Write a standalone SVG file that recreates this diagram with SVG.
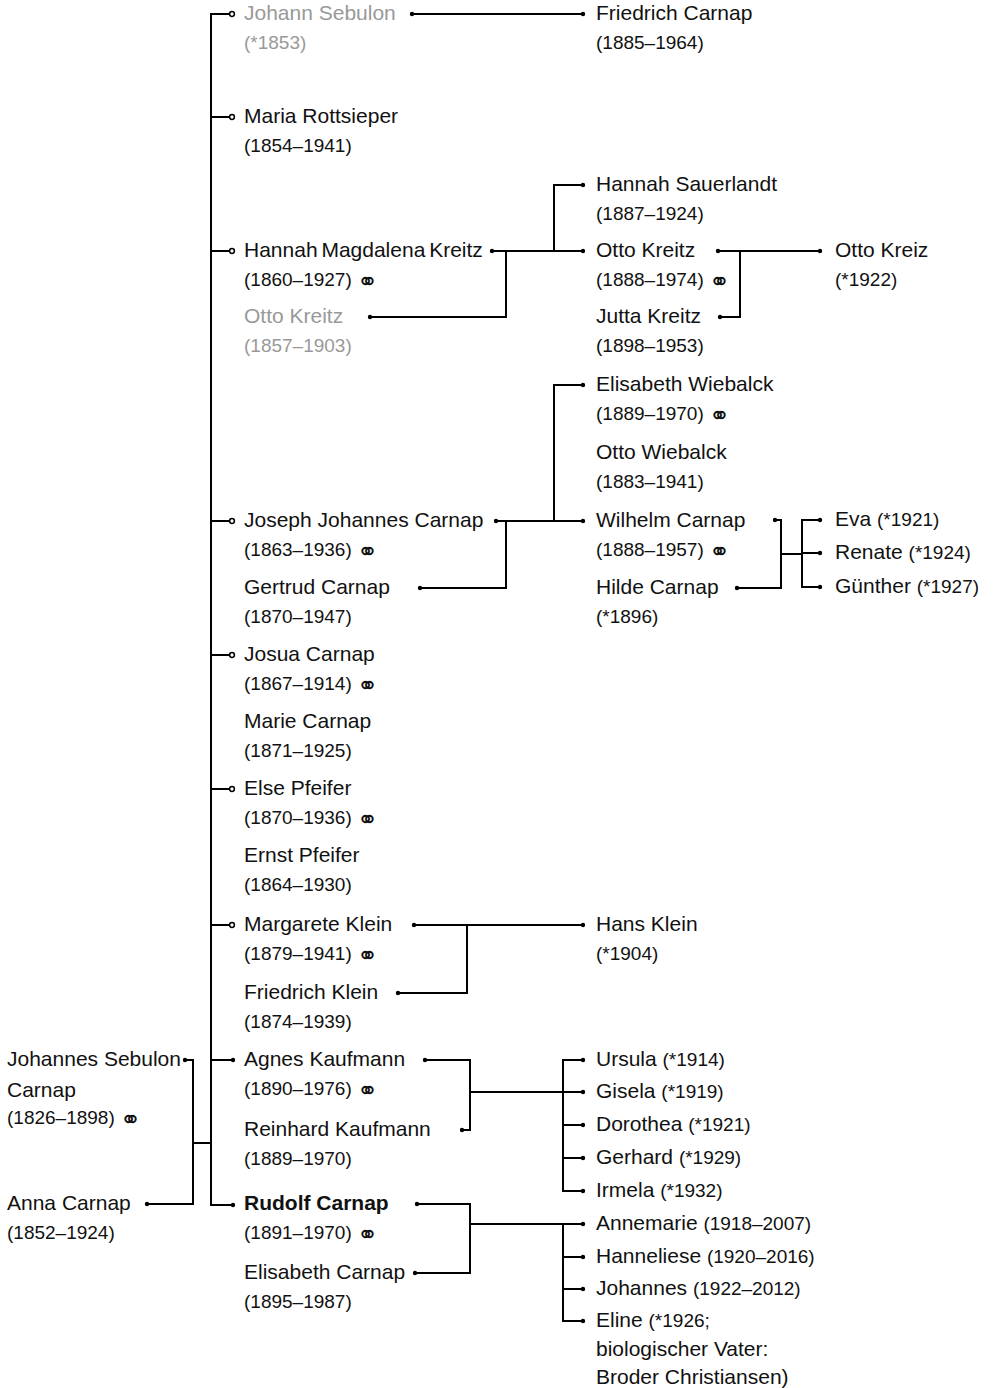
<svg xmlns="http://www.w3.org/2000/svg" width="993" height="1388" viewBox="0 0 993 1388">
<style>
text{font-family:"Liberation Sans",Arial,sans-serif;font-size:21px;fill:#111}
.d{font-size:19px}
.g{fill:#999}
.b{font-weight:bold}
.m{font-family:"DejaVu Sans",sans-serif;font-size:25px}
.ln{fill:none;stroke:#000;stroke-width:2}
</style>
<defs>
<marker id="dot" markerUnits="userSpaceOnUse" markerWidth="6" markerHeight="6" refX="3" refY="3" viewBox="0 0 6 6"><circle cx="3" cy="3" r="2.2" fill="#000"/></marker>
<marker id="ring" markerUnits="userSpaceOnUse" markerWidth="8" markerHeight="8" refX="4" refY="4" viewBox="0 0 8 8"><circle cx="4" cy="4" r="2.4" fill="#fff" stroke="#000" stroke-width="1.5"/></marker>
</defs>
<rect width="993" height="1388" fill="#fff"/>
<g id="connectors">
<path class="ln" d="M232,14 H211 V1205 H233" marker-start="url(#ring)" marker-end="url(#dot)"/>
<path class="ln" d="M211,117 H232" marker-end="url(#ring)"/>
<path class="ln" d="M211,251 H232" marker-end="url(#ring)"/>
<path class="ln" d="M211,521 H232" marker-end="url(#ring)"/>
<path class="ln" d="M211,655 H232" marker-end="url(#ring)"/>
<path class="ln" d="M211,789 H232" marker-end="url(#ring)"/>
<path class="ln" d="M211,925 H232" marker-end="url(#ring)"/>
<path class="ln" d="M211,1060 H233" marker-end="url(#dot)"/>
<path class="ln" d="M412,14 H583" marker-start="url(#dot)" marker-end="url(#dot)"/>
<path class="ln" d="M492,251 H583" marker-start="url(#dot)" marker-end="url(#dot)"/>
<path class="ln" d="M370,317 H506 V251" marker-start="url(#dot)"/>
<path class="ln" d="M554,251 V185 H583" marker-end="url(#dot)"/>
<path class="ln" d="M718,251 H820" marker-start="url(#dot)" marker-end="url(#dot)"/>
<path class="ln" d="M720,317 H740 V251" marker-start="url(#dot)"/>
<path class="ln" d="M496,521 H583" marker-start="url(#dot)" marker-end="url(#dot)"/>
<path class="ln" d="M420,588 H506 V521" marker-start="url(#dot)"/>
<path class="ln" d="M554,521 V385 H583" marker-end="url(#dot)"/>
<path class="ln" d="M775,520 H781 V588 H737" marker-start="url(#dot)" marker-end="url(#dot)"/>
<path class="ln" d="M781,554 H802"/>
<path class="ln" d="M820,520 H802 V587 H820" marker-start="url(#dot)" marker-end="url(#dot)"/>
<path class="ln" d="M802,553 H820" marker-end="url(#dot)"/>
<path class="ln" d="M414,925 H583" marker-start="url(#dot)" marker-end="url(#dot)"/>
<path class="ln" d="M398,993 H467 V925" marker-start="url(#dot)"/>
<path class="ln" d="M425,1060 H470 V1130 H462" marker-start="url(#dot)" marker-end="url(#dot)"/>
<path class="ln" d="M470,1092 H583" marker-end="url(#dot)"/>
<path class="ln" d="M583,1060 H563 V1191 H583" marker-start="url(#dot)" marker-end="url(#dot)"/>
<path class="ln" d="M563,1125 H583" marker-end="url(#dot)"/>
<path class="ln" d="M563,1158 H583" marker-end="url(#dot)"/>
<path class="ln" d="M417,1204 H470 V1273 H415" marker-start="url(#dot)" marker-end="url(#dot)"/>
<path class="ln" d="M470,1224 H583" marker-end="url(#dot)"/>
<path class="ln" d="M563,1224 V1321 H583" marker-end="url(#dot)"/>
<path class="ln" d="M563,1257 H583" marker-end="url(#dot)"/>
<path class="ln" d="M563,1289 H583" marker-end="url(#dot)"/>
<path class="ln" d="M185,1060 H193 V1204 H147" marker-start="url(#dot)" marker-end="url(#dot)"/>
<path class="ln" d="M193,1143 H211"/>
</g>
<g id="johann-sebulon"><text class="g" x="244" y="20">Johann Sebulon</text><text class="g d" x="244" y="49">(*1853)</text></g>
<g id="friedrich-carnap"><text x="596" y="20">Friedrich Carnap</text><text class="d" x="596" y="49">(1885–1964)</text></g>
<g id="maria-rottsieper"><text x="244" y="123">Maria Rottsieper</text><text class="d" x="244" y="152">(1854–1941)</text></g>
<g id="hannah-sauerlandt"><text x="596" y="191">Hannah Sauerlandt</text><text class="d" x="596" y="220">(1887–1924)</text></g>
<g id="hannah-magdalena-kreitz"><text x="244" y="257" word-spacing="-2">Hannah Magdalena Kreitz</text><text class="d" x="244" y="286">(1860–1927) <tspan class="m" dy="4">⚭</tspan></text></g>
<g id="otto-kreitz-sen"><text class="g" x="244" y="323">Otto Kreitz</text><text class="g d" x="244" y="352">(1857–1903)</text></g>
<g id="otto-kreitz"><text x="596" y="257">Otto Kreitz</text><text class="d" x="596" y="286">(1888–1974) <tspan class="m" dy="4">⚭</tspan></text></g>
<g id="jutta-kreitz"><text x="596" y="323">Jutta Kreitz</text><text class="d" x="596" y="352">(1898–1953)</text></g>
<g id="otto-kreiz"><text x="835" y="257">Otto Kreiz</text><text class="d" x="835" y="286">(*1922)</text></g>
<g id="elisabeth-wiebalck"><text x="596" y="391">Elisabeth Wiebalck</text><text class="d" x="596" y="420">(1889–1970) <tspan class="m" dy="4">⚭</tspan></text></g>
<g id="otto-wiebalck"><text x="596" y="459">Otto Wiebalck</text><text class="d" x="596" y="488">(1883–1941)</text></g>
<g id="joseph-johannes-carnap"><text x="244" y="527">Joseph Johannes Carnap</text><text class="d" x="244" y="556">(1863–1936) <tspan class="m" dy="4">⚭</tspan></text></g>
<g id="gertrud-carnap"><text x="244" y="594">Gertrud Carnap</text><text class="d" x="244" y="623">(1870–1947)</text></g>
<g id="wilhelm-carnap"><text x="596" y="527">Wilhelm Carnap</text><text class="d" x="596" y="556">(1888–1957) <tspan class="m" dy="4">⚭</tspan></text></g>
<g id="hilde-carnap"><text x="596" y="594">Hilde Carnap</text><text class="d" x="596" y="623">(*1896)</text></g>
<g id="eva"><text x="835" y="526">Eva <tspan class="d">(*1921)</tspan></text></g>
<g id="renate"><text x="835" y="559">Renate <tspan class="d">(*1924)</tspan></text></g>
<g id="guenther"><text x="835" y="593">Günther <tspan class="d">(*1927)</tspan></text></g>
<g id="josua-carnap"><text x="244" y="661">Josua Carnap</text><text class="d" x="244" y="690">(1867–1914) <tspan class="m" dy="4">⚭</tspan></text></g>
<g id="marie-carnap"><text x="244" y="728">Marie Carnap</text><text class="d" x="244" y="757">(1871–1925)</text></g>
<g id="else-pfeifer"><text x="244" y="795">Else Pfeifer</text><text class="d" x="244" y="824">(1870–1936) <tspan class="m" dy="4">⚭</tspan></text></g>
<g id="ernst-pfeifer"><text x="244" y="862">Ernst Pfeifer</text><text class="d" x="244" y="891">(1864–1930)</text></g>
<g id="margarete-klein"><text x="244" y="931">Margarete Klein</text><text class="d" x="244" y="960">(1879–1941) <tspan class="m" dy="4">⚭</tspan></text></g>
<g id="friedrich-klein"><text x="244" y="999">Friedrich Klein</text><text class="d" x="244" y="1028">(1874–1939)</text></g>
<g id="hans-klein"><text x="596" y="931">Hans Klein</text><text class="d" x="596" y="960">(*1904)</text></g>
<g id="agnes-kaufmann"><text x="244" y="1066">Agnes Kaufmann</text><text class="d" x="244" y="1095">(1890–1976) <tspan class="m" dy="4">⚭</tspan></text></g>
<g id="reinhard-kaufmann"><text x="244" y="1136">Reinhard Kaufmann</text><text class="d" x="244" y="1165">(1889–1970)</text></g>
<g id="rudolf-carnap"><text class="b" x="244" y="1210">Rudolf Carnap</text><text class="d" x="244" y="1239">(1891–1970) <tspan class="m" dy="4">⚭</tspan></text></g>
<g id="elisabeth-carnap"><text x="244" y="1279">Elisabeth Carnap</text><text class="d" x="244" y="1308">(1895–1987)</text></g>
<g id="ursula"><text x="596" y="1066">Ursula <tspan class="d">(*1914)</tspan></text></g>
<g id="gisela"><text x="596" y="1098">Gisela <tspan class="d">(*1919)</tspan></text></g>
<g id="dorothea"><text x="596" y="1131">Dorothea <tspan class="d">(*1921)</tspan></text></g>
<g id="gerhard"><text x="596" y="1164">Gerhard <tspan class="d">(*1929)</tspan></text></g>
<g id="irmela"><text x="596" y="1197">Irmela <tspan class="d">(*1932)</tspan></text></g>
<g id="annemarie"><text x="596" y="1230">Annemarie <tspan class="d">(1918–2007)</tspan></text></g>
<g id="hanneliese"><text x="596" y="1263">Hanneliese <tspan class="d">(1920–2016)</tspan></text></g>
<g id="johannes"><text x="596" y="1295">Johannes <tspan class="d">(1922–2012)</tspan></text></g>
<g id="eline"><text x="596" y="1327">Eline <tspan class="d">(*1926;</tspan></text><text x="596" y="1356">biologischer Vater:</text><text x="596" y="1384">Broder Christiansen)</text></g>
<g id="johannes-sebulon-carnap"><text x="7" y="1066">Johannes Sebulon</text><text x="7" y="1097">Carnap</text><text class="d" x="7" y="1124">(1826–1898) <tspan class="m" dy="4">⚭</tspan></text></g>
<g id="anna-carnap"><text x="7" y="1210">Anna Carnap</text><text class="d" x="7" y="1239">(1852–1924)</text></g>
</svg>
